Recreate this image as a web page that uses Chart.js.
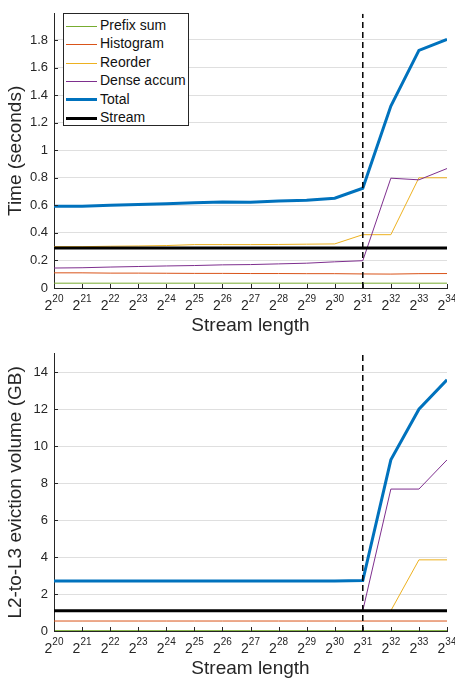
<!DOCTYPE html>
<html>
<head>
<meta charset="utf-8">
<script src="https://cdn.jsdelivr.net/npm/chart.js@4"></script>
<style>
  body { margin: 0; background: #fff; font-family: "Liberation Sans", Arial, sans-serif; }
  .panel { position: relative; width: 455px; }
  .legend { position: absolute; left: 63px; top: 13px; width: 124px; height: 109px;
            border: 1px solid #262626; background: #fff; padding-top: 2px; box-sizing: content-box; }
  .row { height: 18.4px; line-height: 18.4px; font-size: 14px; color: #111; white-space: nowrap; }
  .swatch { display: inline-block; width: 31px; margin-left: 2px; margin-right: 3px; vertical-align: middle; }
</style>
</head>
<body>
<div class="panel" style="height:340px"><canvas id="timeChart" width="455" height="340"></canvas><div class="legend" id="legend"></div></div>
<div class="panel" style="height:343px"><canvas id="evicChart" width="455" height="343"></canvas></div>
<script>
// x positions are powers of two: 2^20 .. 2^34
const exps = [20, 21, 22, 23, 24, 25, 26, 27, 28, 29, 30, 31, 32, 33, 34];
const splitExp = 31; // dashed marker

const names = ["Prefix sum", "Histogram", "Reorder", "Dense accum", "Total", "Stream"];
const colors = ["#77AC30", "#D95319", "#EDB120", "#7E2F8E", "#0072BD", "#000000"];
const widths = [1, 1, 1, 1, 3, 3];

// time (seconds)
const timePrefix  = [0.035, 0.035, 0.035, 0.035, 0.035, 0.035, 0.035, 0.035, 0.035, 0.035, 0.035, 0.035, 0.035, 0.035, 0.035];
const timeHist    = [0.110, 0.110, 0.108, 0.108, 0.107, 0.106, 0.106, 0.105, 0.105, 0.104, 0.104, 0.102, 0.101, 0.104, 0.105];
const timeReorder = [0.300, 0.300, 0.303, 0.305, 0.308, 0.315, 0.315, 0.315, 0.316, 0.318, 0.320, 0.387, 0.387, 0.800, 0.800];
const timeDense   = [0.145, 0.147, 0.152, 0.156, 0.160, 0.163, 0.168, 0.170, 0.175, 0.180, 0.190, 0.198, 0.797, 0.785, 0.867];
const timeTotal   = [0.593, 0.594, 0.600, 0.606, 0.612, 0.618, 0.625, 0.622, 0.632, 0.636, 0.652, 0.724, 1.320, 1.725, 1.805];
const timeStream  = [0.29, 0.29, 0.29, 0.29, 0.29, 0.29, 0.29, 0.29, 0.29, 0.29, 0.29, 0.29, 0.29, 0.29, 0.29];

// L2-to-L3 eviction volume (GB)
const evicPrefix  = [0.02, 0.02, 0.02, 0.02, 0.02, 0.02, 0.02, 0.02, 0.02, 0.02, 0.02, 0.02, 0.02, 0.02, 0.02];
const evicHist    = [0.54, 0.54, 0.54, 0.54, 0.54, 0.54, 0.54, 0.54, 0.54, 0.54, 0.54, 0.54, 0.54, 0.54, 0.54];
const evicReorder = [1.1, 1.1, 1.1, 1.1, 1.1, 1.1, 1.1, 1.1, 1.1, 1.1, 1.1, 1.1, 1.1, 3.85, 3.85];
const evicDense   = [1.1, 1.1, 1.1, 1.1, 1.1, 1.1, 1.1, 1.1, 1.1, 1.1, 1.1, 1.1, 7.68, 7.68, 9.26];
const evicTotal   = [2.70, 2.70, 2.70, 2.70, 2.70, 2.70, 2.70, 2.70, 2.70, 2.70, 2.71, 2.73, 9.26, 12.0, 13.59];
const evicStream  = [1.09, 1.09, 1.09, 1.09, 1.09, 1.09, 1.09, 1.09, 1.09, 1.09, 1.09, 1.09, 1.09, 1.09, 1.09];

const axisColor = "#262626";
const gridColor = "#dfdfdf";
const fontName = '"Liberation Sans", Arial, sans-serif';

// MATLAB-ish: inward ticks + 2^n labels drawn at the scale's tick pixels
const matlabAxes = {
  id: "matlabAxes",
  afterDraw(chart) {
    const ctx = chart.ctx;
    const area = chart.chartArea;
    const xs = chart.scales.x, ys = chart.scales.y;
    ctx.save();
    ctx.strokeStyle = axisColor;
    ctx.lineWidth = 1;
    ctx.beginPath();
    exps.forEach(e => {
      const px = Math.round(xs.getPixelForValue(e)) + 0.5;
      ctx.moveTo(px, area.bottom);
      ctx.lineTo(px, area.bottom - 4);
    });
    ys.ticks.forEach(t => {
      const py = Math.round(ys.getPixelForValue(t.value)) + 0.5;
      ctx.moveTo(area.left, py);
      ctx.lineTo(area.left + 4, py);
    });
    ctx.stroke();

    ctx.fillStyle = axisColor;
    ctx.textBaseline = "alphabetic";
    ctx.textAlign = "left";
    exps.forEach(e => {
      const px = xs.getPixelForValue(e);
      ctx.font = "14px " + fontName;
      const wb = ctx.measureText("2").width;
      ctx.font = "10px " + fontName;
      const we = ctx.measureText(String(e)).width;
      const x0 = px - (wb + we) / 2;
      ctx.font = "14px " + fontName;
      ctx.fillText("2", x0, area.bottom + 22);
      ctx.font = "10px " + fontName;
      ctx.fillText(String(e), x0 + wb, area.bottom + 14);
    });
    ctx.restore();
  }
};

function makeChart(id, series, yMax, yStep, yTitle, padTop) {
  const datasets = series.map((vals, i) => ({
    label: names[i],
    data: vals.map((v, k) => ({ x: exps[k], y: v })),
    borderColor: colors[i],
    borderWidth: widths[i],
    pointRadius: 0,
    tension: 0,
    fill: false,
    order: -i
  }));
  datasets.push({
    label: "split",
    data: [{ x: splitExp, y: 0 }, { x: splitExp, y: yMax }],
    borderColor: "#000",
    borderWidth: 1.5,
    borderDash: [6, 4],
    pointRadius: 0,
    fill: false,
    order: -10
  });

  return new Chart(document.getElementById(id), {
    type: "line",
    data: { datasets: datasets },
    plugins: [matlabAxes],
    options: {
      responsive: false,
      animation: false,
      layout: { padding: { top: padTop, right: 8, left: 0, bottom: 0 } },
      plugins: { legend: { display: false }, tooltip: { enabled: false } },
      scales: {
        x: {
          type: "linear",
          min: exps[0],
          max: exps[exps.length - 1],
          grid: { display: false },
          border: { color: axisColor, width: 1 },
          ticks: { display: false },
          title: { display: true, text: "Stream length", color: axisColor,
                   font: { family: fontName, size: 19 }, padding: { top: 0, bottom: 3 } },
          afterFit: s => { s.height = 52; }
        },
        y: {
          min: 0,
          max: yMax,
          grid: { drawTicks: false, color: c => (c.tick && c.tick.value === 0) ? "rgba(0,0,0,0)" : gridColor },
          border: { color: axisColor, width: 1 },
          ticks: {
            stepSize: yStep,
            padding: 6,
            color: axisColor,
            font: { family: fontName, size: 13 },
            callback: v => String(Math.round(v * 10) / 10)
          },
          afterBuildTicks: s => {
            s.ticks = s.ticks.filter(t => Math.abs(t.value / yStep - Math.round(t.value / yStep)) < 1e-6);
          },
          title: { display: true, text: yTitle, color: axisColor,
                   font: { family: fontName, size: 19 }, padding: { top: 4.5, bottom: 0 } },
          afterFit: s => { s.width = 54; }
        }
      }
    }
  });
}

makeChart("timeChart", [timePrefix, timeHist, timeReorder, timeDense, timeTotal, timeStream],
          1.99, 0.2, "Time (seconds)", 5);
makeChart("evicChart", [evicPrefix, evicHist, evicReorder, evicDense, evicTotal, evicStream],
          15, 2, "L2-to-L3 eviction volume (GB)", 8);

// legend box inside the top plot
const legend = document.getElementById("legend");
names.forEach((n, i) => {
  const row = document.createElement("div");
  row.className = "row";
  const sw = document.createElement("span");
  sw.className = "swatch";
  sw.style.borderTop = widths[i] + "px solid " + colors[i];
  row.appendChild(sw);
  row.appendChild(document.createTextNode(n));
  legend.appendChild(row);
});
</script>
</body>
</html>
